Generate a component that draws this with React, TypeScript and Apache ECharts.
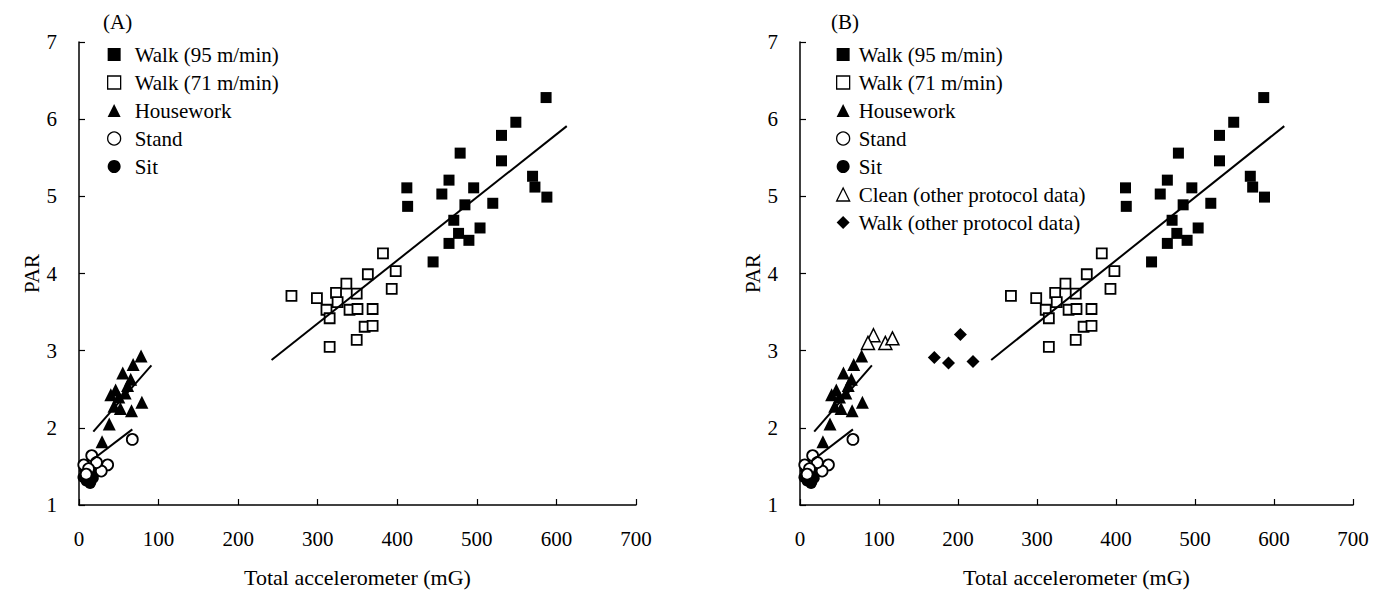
import React, { useEffect, useRef } from "react";
import * as echarts from "echarts";

// Points are [total accelerometer (mG), PAR]
const walk95: [number, number][] = [
  [587, 6.28], [549, 5.96], [531, 5.79], [531, 5.46], [479, 5.56], [412, 5.11],
  [413, 4.87], [465, 5.21], [456, 5.03], [496, 5.11], [485, 4.89], [520, 4.91],
  [471, 4.69], [477, 4.52], [465, 4.39], [490, 4.43], [504, 4.59], [445, 4.15],
  [570, 5.26], [573, 5.12], [588, 4.99],
];

const walk71: [number, number][] = [
  [382, 4.26], [363, 3.99], [398, 4.03], [393, 3.8], [336, 3.87], [323, 3.75],
  [349, 3.74], [267, 3.71], [299, 3.68], [311, 3.53], [325, 3.63], [315, 3.42],
  [340, 3.53], [350, 3.54], [369, 3.54], [359, 3.31], [369, 3.32], [349, 3.14],
  [315, 3.05],
];

const housework: [number, number][] = [
  [78, 2.93], [68, 2.82], [55, 2.71], [65, 2.63], [46, 2.49], [40, 2.43],
  [50, 2.4], [58, 2.45], [79, 2.33], [66, 2.22], [44, 2.28], [52, 2.25],
  [38, 2.05], [29, 1.82], [61, 2.55],
];

const stand: [number, number][] = [
  [67, 1.85], [16, 1.64], [36, 1.52], [28, 1.44], [6, 1.52], [22, 1.55],
  [12, 1.47], [9, 1.4],
];

const sit: [number, number][] = [
  [5, 1.36], [9, 1.31], [15, 1.3], [12, 1.4], [18, 1.35], [7, 1.45],
  [14, 1.28], [20, 1.42],
];

const cleanOther: [number, number][] = [
  [93, 3.2], [86, 3.1], [108, 3.1], [117, 3.16],
];

const walkOther: [number, number][] = [
  [203, 3.21], [170, 2.91], [188, 2.84], [219, 2.86],
];

// Regression lines, given by their end points
const walkFit: [number, number][] = [[242, 2.88], [613, 5.91]];
const houseworkFit: [number, number][] = [[18, 1.95], [91, 2.81]];
const standFit: [number, number][] = [[16, 1.58], [67, 1.98]];

const xTicks = { min: 0, max: 700, interval: 100 };
const yTicks = { min: 1, max: 7, interval: 1 };

const NAMES = {
  walk95: "Walk (95 m/min)",
  walk71: "Walk (71 m/min)",
  housework: "Housework",
  stand: "Stand",
  sit: "Sit",
  clean: "Clean (other protocol data)",
  walkOther: "Walk (other protocol data)",
};

const FONT = '"Liberation Serif", "Times New Roman", serif';
const BLACK = "#000";

const filled = { color: BLACK, opacity: 1 };
const open = { color: "#fff", borderColor: BLACK, borderWidth: 1.8, opacity: 1 };

function axisPair(idx: number) {
  const x = {
    type: "value",
    gridIndex: idx,
    ...xTicks,
    name: "Total accelerometer (mG)",
    nameLocation: "middle",
    nameGap: 61,
    nameTextStyle: { fontFamily: FONT, fontSize: 22, color: BLACK },
    axisLine: { show: true, onZero: false, lineStyle: { color: BLACK, width: 1.5 } },
    axisTick: { show: true, inside: true, length: 6, lineStyle: { color: BLACK, width: 1.2 } },
    axisLabel: { fontFamily: FONT, fontSize: 21, color: BLACK, margin: 23 },
    splitLine: { show: false },
  };
  const y = {
    type: "value",
    gridIndex: idx,
    ...yTicks,
    name: "PAR",
    nameLocation: "middle",
    nameGap: 31,
    nameRotate: 90,
    nameTextStyle: { fontFamily: FONT, fontSize: 21, color: BLACK },
    axisLine: { show: true, onZero: false, lineStyle: { color: BLACK, width: 1.5 } },
    axisTick: { show: true, inside: true, length: 6, lineStyle: { color: BLACK, width: 1.2 } },
    axisLabel: { fontFamily: FONT, fontSize: 21, color: BLACK, margin: 22 },
    splitLine: { show: false },
  };
  return { x, y };
}

function scatter(name: string, idx: number, data: [number, number][], symbol: string, size: number, style: any) {
  return {
    type: "scatter",
    name,
    xAxisIndex: idx,
    yAxisIndex: idx,
    data,
    symbol,
    symbolSize: size,
    itemStyle: style,
    emphasis: { disabled: true },
  };
}

function fit(name: string, idx: number, data: [number, number][]) {
  return {
    type: "line",
    name,
    xAxisIndex: idx,
    yAxisIndex: idx,
    data,
    symbol: "none",
    lineStyle: { color: BLACK, width: 2 },
    emphasis: { disabled: true },
  };
}

function panelSeries(idx: number) {
  return [
    fit("walk fit", idx, walkFit),
    fit("housework fit", idx, houseworkFit),
    fit("stand fit", idx, standFit),
    scatter(NAMES.walk95, idx, walk95, "rect", 11, filled),
    scatter(NAMES.walk71, idx, walk71, "rect", 10, open),
    scatter(NAMES.housework, idx, housework, "triangle", 13, filled),
    scatter(NAMES.sit, idx, sit, "circle", 11, filled),
    scatter(NAMES.stand, idx, stand, "circle", 11, open),
  ];
}

const legendItem = (name: string, icon: string, style: any) => ({ name, icon, itemStyle: style });

const baseLegendItems = [
  legendItem(NAMES.walk95, "rect", filled),
  legendItem(NAMES.walk71, "rect", { ...open, borderWidth: 1.3 }),
  legendItem(NAMES.housework, "triangle", filled),
  legendItem(NAMES.stand, "circle", { ...open, borderWidth: 1.3 }),
  legendItem(NAMES.sit, "circle", filled),
];

function legend(left: number, textGap: number, items: any[]) {
  return {
    orient: "vertical",
    left,
    top: 39,
    itemWidth: 13,
    itemHeight: 13,
    itemGap: 7,
    selectedMode: false,
    textStyle: { fontFamily: FONT, fontSize: 21, color: BLACK, padding: [0, 0, 0, textGap] },
    data: items,
  };
}

export default function App() {
  const ref = useRef<HTMLDivElement>(null);

  useEffect(() => {
    if (!ref.current) return;
    const chart = echarts.init(ref.current, undefined, { renderer: "svg" });
    const a = axisPair(0);
    const b = axisPair(1);
    const titleStyle = { fontFamily: FONT, fontSize: 21, fontWeight: "normal", color: BLACK };
    chart.setOption({
      animation: false,
      backgroundColor: "#fff",
      title: [
        { text: "(A)", left: 98, top: 6, textStyle: titleStyle },
        { text: "(B)", left: 826, top: 6, textStyle: titleStyle },
      ],
      grid: [
        { left: 79, top: 42, width: 557, height: 463 },
        { left: 800, top: 42, width: 553, height: 463 },
      ],
      xAxis: [a.x, b.x],
      yAxis: [a.y, b.y],
      legend: [
        legend(102, 9, baseLegendItems),
        legend(831, 4, [
          ...baseLegendItems,
          legendItem(NAMES.clean, "triangle", { ...open, borderWidth: 1.3 }),
          legendItem(NAMES.walkOther, "diamond", filled),
        ]),
      ],
      series: [
        ...panelSeries(0),
        ...panelSeries(1),
        scatter(NAMES.clean, 1, cleanOther, "triangle", 13, { ...open, borderWidth: 1.5 }),
        scatter(NAMES.walkOther, 1, walkOther, "diamond", 13, filled),
      ],
    });
    return () => chart.dispose();
  }, []);

  return (
    <div
      ref={ref}
      style={{ position: "absolute", left: 0, top: 0, width: 1384, height: 593, background: "#fff" }}
    />
  );
}
